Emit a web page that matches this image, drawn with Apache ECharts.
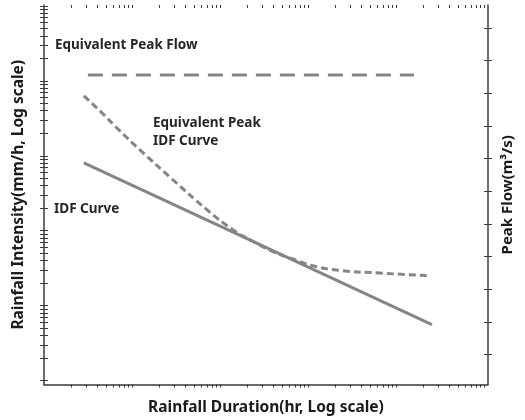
<!DOCTYPE html>
<html>
<head>
<meta charset="utf-8">
<script src="https://cdn.jsdelivr.net/npm/echarts@6/dist/echarts.min.js"></script>
<style>
    html, body {margin: 0; padding: 0; background: #fff;}
    #main_box {width: 525px; height: 420px;}
</style>
</head>
<body>
<div id="main_box"></div>
<script>
// duration (hr) and intensity (mm/h)
let idf_dur = [0.0281, 2.81, 253];
let idf_int = [80.7, 6.5, 0.558];

let eq_dur = [0.0281, 0.0427, 0.0721, 0.1217, 0.2885, 0.7025, 1.387, 2.164, 3.951, 6.666, 11.25, 22.8, 64.9, 228];
let eq_int = [631, 398, 215, 120, 47.9, 19.1, 10.3, 7.59, 5.25, 4.2, 3.4, 2.95, 2.72, 2.51];

// equivalent peak flow (right axis)
let peak_dur = [0.0312, 158];
let peak_flow = [9.56, 9.56];

let x_min = 0.0099, x_max = 1097;
let y_min = 0.0885, y_max = 10312;
let q_min = 0.08, q_max = 11.7;

let x_ticks = [];
let y_ticks = [];
for (let n = -2; n <= 2; n++) {
    for (let k = 2; k <= 10; k++) x_ticks.push(+(k * Math.pow(10, n)).toPrecision(3));
}
for (let n = -1; n <= 3; n++) {
    for (let k = 1; k <= 9; k++) y_ticks.push(+(k * Math.pow(10, n)).toPrecision(3));
}
y_ticks.push(10000);
let q_ticks = [1, 2, 3, 4, 5, 6, 7, 8, 9, 10, 11];

function pairs(xs, ys) {
    return xs.map(function (x, i) { return [x, ys[i]]; });
}

function data_chart() {
    let axis_col = '#3a3a3a';
    let line_col = '#858585';
    let font = '"Noto Sans", "Noto Sans CJK KR", sans-serif';

    let chart_box = echarts.init(document.getElementById('main_box'));
    let option = {
        animation: false,
        grid: {left: 44, right: 37, top: 5, bottom: 35},
        xAxis: [
            {
                type: 'log', min: x_min, max: x_max,
                name: 'Rainfall Duration(hr, Log scale)',
                nameLocation: 'middle', nameGap: 15,
                nameTextStyle: {color: '#1a1a1a', fontSize: 15.5, fontWeight: 'bold', fontFamily: font},
                axisLine: {lineStyle: {color: axis_col, width: 1.5}},
                axisTick: {show: true, length: 3, customValues: x_ticks, lineStyle: {color: axis_col, width: 1}},
                axisLabel: {show: false},
                splitLine: {show: false}, minorTick: {show: false}
            },
            {
                type: 'log', min: x_min, max: x_max,
                axisLine: {show: false},
                axisTick: {show: true, inside: true, length: 3, customValues: x_ticks, lineStyle: {color: axis_col, width: 1}},
                axisLabel: {show: false},
                splitLine: {show: false}
            }
        ],
        yAxis: [
            {
                type: 'log', min: y_min, max: y_max, position: 'left',
                name: 'Rainfall Intensity(mm/h, Log scale)',
                nameLocation: 'middle', nameGap: 18,
                nameTextStyle: {color: '#1a1a1a', fontSize: 15.5, fontWeight: 'bold', fontFamily: font},
                axisLine: {show: true, lineStyle: {color: axis_col, width: 1.5}},
                axisTick: {show: true, length: 4, customValues: y_ticks, lineStyle: {color: axis_col, width: 1}},
                axisLabel: {show: false},
                splitLine: {show: false}
            },
            {
                type: 'log', min: y_min, max: y_max, position: 'left',
                axisLine: {show: false},
                axisTick: {show: true, inside: true, length: 4, customValues: y_ticks, lineStyle: {color: axis_col, width: 1}},
                axisLabel: {show: false},
                splitLine: {show: false}
            },
            {
                type: 'value', min: q_min, max: q_max, position: 'right',
                name: 'Peak Flow(m³/s)',
                nameLocation: 'middle', nameGap: 12,
                nameTextStyle: {color: '#1a1a1a', fontSize: 15, fontWeight: 'bold', fontFamily: font},
                axisLine: {show: true, lineStyle: {color: axis_col, width: 1.5}},
                axisTick: {show: true, length: 4, customValues: q_ticks, lineStyle: {color: axis_col, width: 1}},
                axisLabel: {show: false},
                splitLine: {show: false}
            },
            {
                type: 'value', min: q_min, max: q_max, position: 'right',
                axisLine: {show: false},
                axisTick: {show: true, inside: true, length: 4, customValues: q_ticks, lineStyle: {color: axis_col, width: 1}},
                axisLabel: {show: false},
                splitLine: {show: false}
            }
        ],
        graphic: [
            {type: 'text', left: 55, top: 38, style: {text: 'Equivalent Peak Flow', fill: '#262626', font: 'bold 13.5px ' + font}},
            {type: 'text', left: 153, top: 114, style: {text: 'Equivalent Peak\nIDF Curve', fill: '#262626', font: 'bold 13.5px ' + font, lineHeight: 18}},
            {type: 'text', left: 54, top: 202, style: {text: 'IDF Curve', fill: '#262626', font: 'bold 13.5px ' + font}}
        ],
        series: [
            {
                name: 'IDF Curve', type: 'line', xAxisIndex: 0, yAxisIndex: 0,
                symbol: 'none', data: pairs(idf_dur, idf_int),
                lineStyle: {color: line_col, width: 3}
            },
            {
                name: 'Equivalent Peak IDF Curve', type: 'line', xAxisIndex: 0, yAxisIndex: 0,
                symbol: 'none', smooth: 0.5, data: pairs(eq_dur, eq_int),
                lineStyle: {color: line_col, width: 3, type: [7, 4]}
            },
            {
                name: 'Equivalent Peak Flow', type: 'line', xAxisIndex: 0, yAxisIndex: 2,
                symbol: 'none', data: pairs(peak_dur, peak_flow),
                lineStyle: {color: line_col, width: 3, type: [15, 9]}
            }
        ]
    };
    chart_box.setOption(option);
    window.onresize = chart_box.resize;
}

data_chart();
</script>
</body>
</html>
